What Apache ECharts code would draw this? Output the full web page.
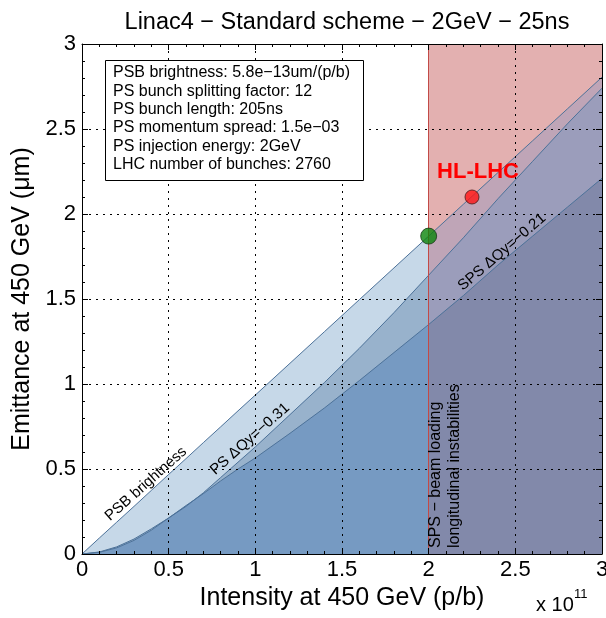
<!DOCTYPE html>
<html><head><meta charset="utf-8">
<script src="https://cdn.jsdelivr.net/npm/echarts@6/dist/echarts.min.js"></script>
<style>html,body{margin:0;padding:0;background:#fff}#c{width:606px;height:618px}</style>
</head><body><div id="c"></div>
<script>
// ---- data ----
const intensity     = [0,0.1,0.2,0.3,0.4,0.5,0.6,0.7,0.8,0.9,1.0,1.2,1.4,1.6,1.8,2.0,2.2,2.4,2.6,2.8,3.0];
const psbBrightness = [0,0.094,0.187,0.28,0.374,0.468,0.561,0.655,0.748,0.842,0.935,1.122,1.309,1.496,1.683,1.87,2.057,2.244,2.431,2.618,2.805];
const psDQy         = [0,0.012,0.042,0.088,0.148,0.212,0.28,0.36,0.45,0.54,0.63,0.82,1.01,1.21,1.42,1.64,1.86,2.09,2.31,2.53,2.74];
const spsDQy        = [0,0.01,0.036,0.08,0.14,0.212,0.285,0.355,0.43,0.50,0.565,0.71,0.86,1.02,1.185,1.35,1.52,1.70,1.87,2.04,2.21];
const spsLimit = 2.0;                 // SPS beam loading limit (x)
const currentPoint = [[2.0, 1.87]];   // green point
const hlLhcPoint   = [[2.25, 2.10]];  // HL-LHC target
const xTicks = [0,0.5,1,1.5,2,2.5,3];
const yTicks = [0,0.5,1,1.5,2,2.5,3];
const paramLines = [
  'PSB brightness: 5.8e\u221213um/(p/b)',
  'PS bunch splitting factor: 12',
  'PS bunch length: 205ns',
  'PS momentum spread: 1.5e\u221203',
  'PS injection energy: 2GeV',
  'LHC number of bunches: 2760'
];

const FONT = '"Liberation Sans", Arial, Helvetica, sans-serif';
const xMin = xTicks[0], xMax = xTicks[xTicks.length-1];
const yMin = yTicks[0], yMax = yTicks[yTicks.length-1];

function pts(ys, from, to) {
  return intensity.map((x,i)=>[x, ys[i]]).filter(p => p[0] >= from && p[0] <= to);
}
function area(name, ys, from, to, color) {
  return {type:'line', name, data: pts(ys, from, to), symbol:'none', silent:true,
    lineStyle:{width:0}, areaStyle:{color, opacity:1}, z:2, animation:false};
}
function curve(name, ys, extra) {
  return Object.assign({type:'line', name, data: pts(ys, xMin, xMax), symbol:'none', silent:true,
    lineStyle:{color:'#4d7299', width:1}, z:3, animation:false}, extra||{});
}

const chart = echarts.init(document.getElementById('c'), null, {renderer:'canvas'});

const axisCommon = {
  type:'value', z:5,
  axisLine:{show:true, onZero:false, lineStyle:{color:'#000', width:1}},
  axisTick:{show:true, inside:true, length:6, lineStyle:{color:'#000'}},
  minorTick:{show:true, splitNumber:5, length:3, lineStyle:{color:'#000'}},
};
function txt(t, x, y, size, extra, align) {
  return Object.assign({type:'text', x, y, z:51,
    style:{text:t, fontFamily:FONT, fontSize:size, fill:'#000', align:align||'center', verticalAlign:'middle'}}, extra||{});
}

chart.setOption({
  animation:false,
  backgroundColor:'#fff',
  title:{text:'Linac4 \u2212 Standard scheme \u2212 2GeV \u2212 25ns', left:342, top:6, textAlign:'center',
    textStyle:{fontFamily:FONT, fontSize:23.5, fontWeight:'normal', color:'#000'}},
  grid:{left:82, right:4, top:44, bottom:64, containLabel:false, outerBoundsMode:'none'},
  xAxis:[
    Object.assign({}, axisCommon, {min:xMin, max:xMax, interval:0.5, position:'bottom',
      axisLabel:{fontFamily:FONT, fontSize:22, color:'#000', margin:5},
      splitLine:{show:true, lineStyle:{color:'#000', type:[2,5], width:1}},
      name:'Intensity at 450 GeV (p/b)', nameLocation:'middle', nameGap:19,
      nameTextStyle:{fontFamily:FONT, fontSize:25, color:'#000', verticalAlign:'top'}}),
    Object.assign({}, axisCommon, {min:xMin, max:xMax, interval:0.5, position:'top',
      axisLabel:{show:false}, splitLine:{show:false}})
  ],
  yAxis:[
    Object.assign({}, axisCommon, {min:yMin, max:yMax, interval:0.5, position:'left',
      axisLabel:{fontFamily:FONT, fontSize:22, color:'#000', margin:6},
      splitLine:{show:true, lineStyle:{color:'#000', type:[2,5], width:1}},
      name:'Emittance at 450 GeV (\u03bcm)', nameLocation:'middle', nameGap:46, nameRotate:90,
      nameTextStyle:{fontFamily:FONT, fontSize:25, color:'#000'}}),
    Object.assign({}, axisCommon, {min:yMin, max:yMax, interval:0.5, position:'right',
      axisLabel:{show:false}, splitLine:{show:false}})
  ],
  series:[
    {type:'line', name:'limit', data:[], z:1, silent:true,
      markArea:{silent:true, itemStyle:{color:'#e3b0b0'},
        data:[[{xAxis:spsLimit, yAxis:yMax},{xAxis:xMax, yAxis:yMin}]]}},
    area('psbL', psbBrightness, xMin, spsLimit, '#c6d8e8'),
    area('psL',  psDQy,         xMin, spsLimit, '#98b2cc'),
    area('spsL', spsDQy,        xMin, spsLimit, '#769ac2'),
    area('psbR', psbBrightness, spsLimit, xMax, '#bfa5b7'),
    area('psR',  psDQy,         spsLimit, xMax, '#9b9dbb'),
    area('spsR', spsDQy,        spsLimit, xMax, '#8289aa'),
    curve('PSB brightness', psbBrightness),
    curve('PS dQy', psDQy),
    curve('SPS dQy', spsDQy, {markLine:{silent:true, symbol:'none', label:{show:false},
      lineStyle:{color:'#c24a47', width:1, type:'solid'}, data:[{xAxis:spsLimit}]}}),
    {type:'scatter', data:currentPoint, symbolSize:16, z:10, silent:true,
      itemStyle:{color:'#0b840b', borderColor:'#173817', borderWidth:1}},
    {type:'scatter', data:hlLhcPoint, symbolSize:14, z:10, silent:true,
      itemStyle:{color:'#ff1414', borderColor:'#4a1a1a', borderWidth:1}}
  ],
  graphic:[
    {type:'rect', shape:{x:105.5, y:60.5, width:258, height:120}, z:50,
      style:{fill:'#fff', stroke:'#000', lineWidth:1}},
    ...paramLines.map((t,i)=>txt(t, 113, 73 + i*18.3, 16, null, 'left')),
    {type:'text', x:478, y:172, z:51, style:{text:'HL-LHC', fontFamily:FONT,
      fontSize:22, fontWeight:'bold', fill:'#ff0000', align:'center', verticalAlign:'middle'}},
    txt('PSB brightness', 146, 484, 15, {rotation:41.5*Math.PI/180}),
    txt('PS \u0394Qy=\u22120.31', 250, 439, 15, {rotation:41.5*Math.PI/180}),
    txt('SPS \u0394Qy=\u22120.21', 502, 252, 15, {rotation:40.5*Math.PI/180}),
    txt('SPS \u2212 beam loading', 436, 548, 16, {rotation:Math.PI/2}, 'left'),
    txt('longitudinal instabilities', 455, 548, 16, {rotation:Math.PI/2}, 'left'),
    txt('x 10', 536, 605, 20, null, 'left'),
    txt('11', 574, 594, 13, null, 'left')
  ]
});
</script></body></html>
